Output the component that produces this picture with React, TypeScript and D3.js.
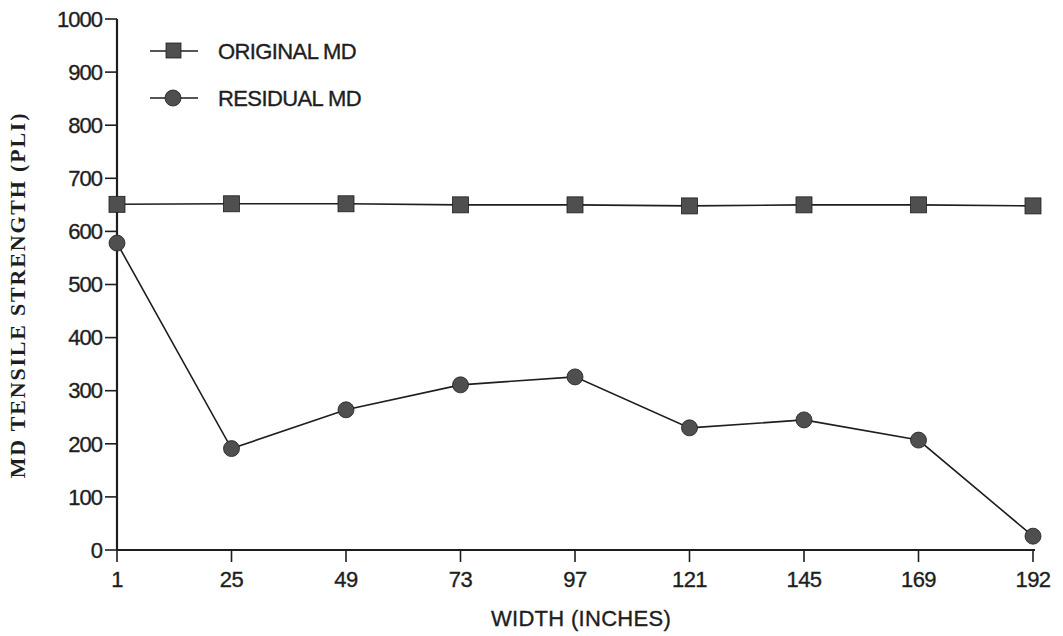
import React from "react";
import * as d3 from "d3";

const categories = ["1", "25", "49", "73", "97", "121", "145", "169", "192"];
const originalMD = [651, 652, 652, 650, 650, 648, 650, 650, 648];
const residualMD = [578, 191, 264, 311, 326, 230, 245, 207, 26];
const yTicks = [0, 100, 200, 300, 400, 500, 600, 700, 800, 900, 1000];

const W = 1063, H = 636;
const left = 117, right = 1033, top = 19, bottom = 550;
const ink = "#1e1e1e";
const markFill = "#4f4f4f";
const sans = "'Liberation Sans', Arial, Helvetica, sans-serif";
const serif = "'Liberation Serif', 'Times New Roman', serif";
const textStroke = { stroke: ink, strokeWidth: 0.35 };

export default function App() {
  const x = d3.scalePoint<string>().domain(categories).range([left, right]);
  const y = d3.scaleLinear().domain([0, 1000]).range([bottom, top]);
  const line = d3.line<number>().x((_, i) => x(categories[i])!).y((d) => y(d));

  return (
    <svg width={W} height={H} style={{ display: "block", position: "absolute", left: 0, top: 0, background: "#fff" }}>
      {/* axes */}
      <line x1={left} x2={left} y1={top} y2={bottom} stroke={ink} strokeWidth={2.2} />
      <line x1={left} x2={right + 2} y1={bottom} y2={bottom} stroke={ink} strokeWidth={2.2} />
      {yTicks.map((t) => (
        <g key={t}>
          <line x1={left - 12} x2={left} y1={y(t)} y2={y(t)} stroke={ink} strokeWidth={1.6} />
          <text x={left - 15} y={y(t)} dy="0.35em" textAnchor="end" fontFamily={sans} fontSize={22} fill={ink} letterSpacing={-1} {...textStroke}>
            {t}
          </text>
        </g>
      ))}
      {categories.map((c) => (
        <g key={c}>
          <line x1={x(c)} x2={x(c)} y1={bottom} y2={bottom + 12} stroke={ink} strokeWidth={1.6} />
          <text x={x(c)} y={587} textAnchor="middle" fontFamily={sans} fontSize={22} fill={ink} letterSpacing={-0.5} {...textStroke}>
            {c}
          </text>
        </g>
      ))}
      <text x={581} y={626} textAnchor="middle" fontFamily={sans} fontSize={22} fill={ink} letterSpacing={0.3} {...textStroke}>
        WIDTH (INCHES)
      </text>
      <text
        transform={`translate(25, 295) rotate(-90)`}
        textAnchor="middle"
        fontFamily={serif}
        fontWeight="bold"
        fontSize={22}
        fill={ink}
        letterSpacing={1.8}
      >
        MD TENSILE STRENGTH (PLI)
      </text>

      {/* series */}
      <path d={line(originalMD)!} fill="none" stroke={ink} strokeWidth={1.6} />
      <path d={line(residualMD)!} fill="none" stroke={ink} strokeWidth={1.6} />
      {originalMD.map((v, i) => (
        <rect key={i} x={x(categories[i])! - 8} y={y(v) - 8} width={16} height={16} fill={markFill} stroke={ink} strokeWidth={0.8} />
      ))}
      {residualMD.map((v, i) => (
        <circle key={i} cx={x(categories[i])!} cy={y(v)} r={8} fill={markFill} stroke={ink} strokeWidth={0.8} />
      ))}

      {/* legend */}
      <g>
        <line x1={150} x2={198} y1={51} y2={51} stroke={ink} strokeWidth={1.6} />
        <rect x={166} y={43} width={15} height={15} fill={markFill} stroke={ink} strokeWidth={0.8} />
        <text x={218} y={51} dy="0.35em" fontFamily={sans} fontSize={22} fill={ink} letterSpacing={-0.6} {...textStroke}>ORIGINAL MD</text>
        <line x1={150} x2={198} y1={98} y2={98} stroke={ink} strokeWidth={1.6} />
        <circle cx={173} cy={98} r={8} fill={markFill} stroke={ink} strokeWidth={0.8} />
        <text x={218} y={98} dy="0.35em" fontFamily={sans} fontSize={22} fill={ink} letterSpacing={-0.6} {...textStroke}>RESIDUAL MD</text>
      </g>
    </svg>
  );
}
